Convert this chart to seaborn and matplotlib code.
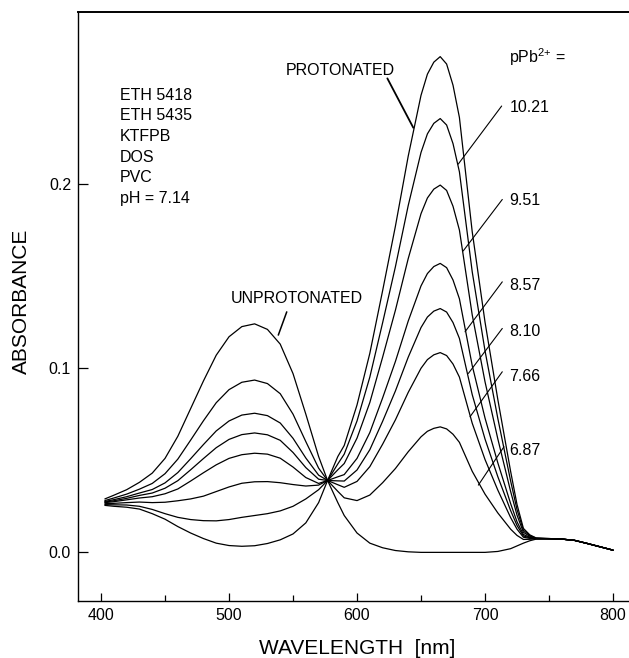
import matplotlib
matplotlib.use("Agg")
import matplotlib.pyplot as plt
import pandas as pd
import seaborn as sns

# longitudes de onda (nm)
wavelength = [403, 410, 420, 430, 440, 450, 460, 470, 480, 490,
              500, 510, 520, 530, 540, 550, 560, 570, 577, 585,
              590, 600, 610, 620, 630, 640, 650, 655, 660, 665,
              670, 675, 680, 690, 700, 710, 720, 725, 730, 735,
              740, 750, 760, 770, 780, 790, 800]

# absorbancia de cada espectro (de forma desprotonada a protonada)
abs_unprot = [0.029, 0.031, 0.034, 0.038, 0.043, 0.051, 0.063, 0.078, 0.093, 0.107,
              0.117, 0.1225, 0.124, 0.121, 0.113, 0.097, 0.075, 0.052, 0.039, 0.027,
              0.020, 0.0105, 0.005, 0.0025, 0.001, 0.0003, 0.0, 0.0, 0.0, 0.0,
              0.0, 0.0, 0.0, 0.0, 0.0, 0.0005, 0.002, 0.0035, 0.005, 0.0063,
              0.0072, 0.0074, 0.0072, 0.0065, 0.0048, 0.003, 0.0012]
abs_687 = [0.0281, 0.0295, 0.0316, 0.0343, 0.0374, 0.0427, 0.0506, 0.0609, 0.0714, 0.0812,
           0.0883, 0.0923, 0.0935, 0.0916, 0.0861, 0.0750, 0.0601, 0.0457, 0.039, 0.0331,
           0.0296, 0.0281, 0.0311, 0.0378, 0.0455, 0.0546, 0.0627, 0.0657, 0.0673, 0.0681,
           0.0670, 0.0641, 0.0597, 0.0440, 0.0316, 0.0214, 0.0126, 0.0092, 0.0070, 0.0071,
           0.0074, 0.0074, 0.0072, 0.0065, 0.0048, 0.003, 0.0012]
abs_766 = [0.0276, 0.0286, 0.0302, 0.0322, 0.0341, 0.0377, 0.0433, 0.0508, 0.0585, 0.0659,
           0.0713, 0.0745, 0.0755, 0.0742, 0.0702, 0.0619, 0.0512, 0.0419, 0.039, 0.0367,
           0.0353, 0.0385, 0.0465, 0.0587, 0.0719, 0.0868, 0.0999, 0.1046, 0.1072, 0.1084,
           0.1068, 0.1022, 0.0951, 0.0701, 0.0504, 0.0338, 0.0189, 0.0126, 0.0082, 0.0076,
           0.0074, 0.0074, 0.0072, 0.0065, 0.0048, 0.003, 0.0012]
abs_810 = [0.0273, 0.0280, 0.0293, 0.0309, 0.0322, 0.0348, 0.0389, 0.0448, 0.0509, 0.0568,
           0.0613, 0.0639, 0.0648, 0.0638, 0.0608, 0.0542, 0.0460, 0.0397, 0.039, 0.0388,
           0.0387, 0.0447, 0.0557, 0.0711, 0.0876, 0.1059, 0.1220, 0.1277, 0.1309, 0.1323,
           0.1304, 0.1247, 0.1161, 0.0856, 0.0615, 0.0411, 0.0227, 0.0146, 0.0089, 0.0079,
           0.0075, 0.0074, 0.0072, 0.0065, 0.0048, 0.003, 0.0012]
abs_857 = [0.0270, 0.0275, 0.0285, 0.0295, 0.0302, 0.0318, 0.0344, 0.0387, 0.0432, 0.0475,
           0.0510, 0.0530, 0.0538, 0.0533, 0.0511, 0.0463, 0.0406, 0.0374, 0.039, 0.0410,
           0.0422, 0.0510, 0.0650, 0.0838, 0.1036, 0.1255, 0.1446, 0.1513, 0.1551, 0.1568,
           0.1545, 0.1478, 0.1376, 0.1014, 0.0729, 0.0486, 0.0265, 0.0166, 0.0097, 0.0082,
           0.0075, 0.0074, 0.0072, 0.0065, 0.0048, 0.003, 0.0012]
abs_951 = [0.0264, 0.0266, 0.0270, 0.0273, 0.0270, 0.0272, 0.0280, 0.0290, 0.0305, 0.0330,
           0.0355, 0.0375, 0.0383, 0.0384, 0.0378, 0.0368, 0.0360, 0.0365, 0.039, 0.0448,
           0.0482, 0.0620, 0.0813, 0.1059, 0.1314, 0.1594, 0.1838, 0.1923, 0.1971, 0.1993,
           0.1964, 0.1878, 0.1749, 0.1289, 0.0926, 0.0616, 0.0331, 0.0202, 0.0109, 0.0087,
           0.0076, 0.0074, 0.0072, 0.0065, 0.0048, 0.003, 0.0012]
abs_1021 = [0.0259, 0.0258, 0.0257, 0.0250, 0.0233, 0.0210, 0.0190, 0.0178, 0.0172, 0.0171,
            0.0178, 0.0190, 0.0200, 0.0210, 0.0225, 0.0250, 0.0290, 0.0340, 0.039, 0.0480,
            0.0533, 0.0713, 0.0951, 0.1246, 0.1550, 0.1882, 0.2170, 0.2271, 0.2328, 0.2354,
            0.2319, 0.2218, 0.2065, 0.1523, 0.1094, 0.0727, 0.0388, 0.0232, 0.0120, 0.0091,
            0.0077, 0.0075, 0.0072, 0.0065, 0.0048, 0.003, 0.0012]
abs_prot = [0.0255, 0.025, 0.0245, 0.0235, 0.021, 0.018, 0.014, 0.0105, 0.0075, 0.005,
            0.0037, 0.0033, 0.0036, 0.0048, 0.0068, 0.010, 0.016, 0.027, 0.039, 0.052,
            0.058, 0.080, 0.108, 0.142, 0.177, 0.215, 0.248, 0.2595, 0.266, 0.269,
            0.265, 0.2535, 0.236, 0.174, 0.125, 0.083, 0.044, 0.026, 0.013, 0.0095,
            0.0078, 0.0075, 0.0072, 0.0065, 0.0048, 0.003, 0.0012]

curve_names = ["unprot", "6.87", "7.66", "8.10", "8.57", "9.51", "10.21", "prot"]
curve_values = [abs_unprot, abs_687, abs_766, abs_810, abs_857, abs_951, abs_1021, abs_prot]

membrane = ["ETH 5418", "ETH 5435", "KTFPB", "DOS", "PVC", "pH = 7.14"]
ppb_labels = ["10.21", "9.51", "8.57", "8.10", "7.66", "6.87"]

# tabla larga para seaborn
rows = []
for name, vals in zip(curve_names, curve_values):
    for w, a in zip(wavelength, vals):
        rows.append({"curve": name, "wavelength": w, "absorbance": a})
df = pd.DataFrame(rows)

sns.set_theme(style="white")
plt.rcParams["font.family"] = ["Liberation Sans", "DejaVu Sans"]
plt.rcParams["mathtext.fontset"] = "custom"
plt.rcParams["mathtext.rm"] = "Liberation Sans"
plt.rcParams["text.color"] = "black"
plt.rcParams["axes.labelcolor"] = "black"
plt.rcParams["xtick.color"] = "black"
plt.rcParams["ytick.color"] = "black"

fig = plt.figure(figsize=(6.29, 6.58), dpi=100)
ax = fig.add_axes([0.124, 0.0866, 0.876, 0.8951])

sns.lineplot(data=df, x="wavelength", y="absorbance", units="curve",
             estimator=None, color="black", linewidth=0.9, legend=False, ax=ax)

ax.set_xlim(382.0, 812.5)
ax.set_ylim(-0.0264, 0.2932)

ax.set_xticks([400, 500, 600, 700, 800])
ax.set_xticks([450, 550, 650, 750], minor=True)
ax.set_yticks([0.0, 0.1, 0.2])
ax.set_yticklabels(["0.0", "0.1", "0.2"])
ax.tick_params(axis="x", which="major", direction="in", length=6, width=0.9,
               pad=5, labelsize=11.5, colors="black", bottom=True, top=False)
ax.tick_params(axis="x", which="minor", direction="in", length=4, width=0.9,
               bottom=True, top=False)
ax.tick_params(axis="y", which="major", direction="in", length=7, width=0.9,
               pad=5, labelsize=11.5, colors="black", left=True, right=False)

for s in ["left", "bottom", "top"]:
    ax.spines[s].set_color("black")
    ax.spines[s].set_linewidth(1.0)
ax.spines["top"].set_linewidth(1.4)
ax.spines["right"].set_visible(False)

ax.set_xlabel("WAVELENGTH  [nm]", fontsize=15)
ax.set_ylabel("ABSORBANCE", fontsize=15)
ax.xaxis.set_label_coords(0.507, -0.0645)
ax.yaxis.set_label_coords(-0.0853, 0.5085)

# composicion de la membrana
for i, t in enumerate(membrane):
    ax.text(414.8, 0.2481 - i * 0.01122, t, fontsize=11.5, ha="left", va="center")

# etiquetas de las bandas
line_kw = dict(arrowstyle="-", color="black", lw=0.8, shrinkA=0, shrinkB=0)
ax.text(586.7, 0.2617, "PROTONATED", fontsize=11.5, ha="center", va="center")
ax.annotate("", xy=(644.0, 0.2304), xytext=(623.7, 0.2572), arrowprops=dict(line_kw, lw=1.3))
ax.text(553.1, 0.1380, "UNPROTONATED", fontsize=11.5, ha="center", va="center")
ax.annotate("", xy=(538.5, 0.1179), xytext=(545.1, 0.1305), arrowprops=dict(line_kw, lw=1.1))

# valores de pPb
ax.text(718.8, 0.2687, r"pPb$^{\mathregular{2{+}}}$ =", fontsize=11.5, ha="left", va="center")
text_y = [0.2416, 0.1912, 0.1450, 0.1197, 0.0957, 0.0555]
pointers = [(713.0, 0.2422, 679.1, 0.2107),
            (713.5, 0.1915, 683.0, 0.1636),
            (713.5, 0.1468, 684.4, 0.1197),
            (713.5, 0.1215, 687.0, 0.0971),
            (713.5, 0.0980, 688.3, 0.0736),
            (714.8, 0.0573, 694.8, 0.0365)]
for lab, ty, (x0, y0, x1, y1) in zip(ppb_labels, text_y, pointers):
    ax.text(719.0, ty, lab, fontsize=11.5, ha="left", va="center")
    ax.annotate("", xy=(x1, y1), xytext=(x0, y0), arrowprops=line_kw)

fig.savefig("out.png", dpi=100, facecolor="white")
